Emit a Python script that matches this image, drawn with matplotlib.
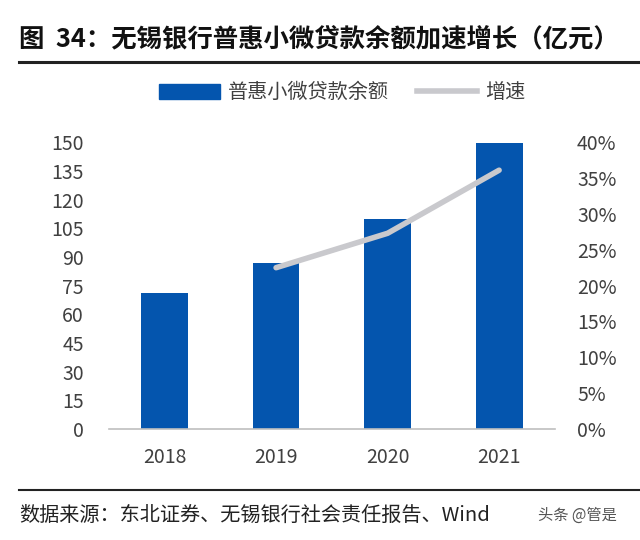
import matplotlib
matplotlib.use("Agg")
import matplotlib.pyplot as plt
from matplotlib.lines import Line2D
from matplotlib.ticker import FuncFormatter

plt.rcParams['font.family'] = ['Noto Sans CJK SC', 'DejaVu Sans']

# data
years = ['2018', '2019', '2020', '2021']
balance = [70.9, 86.6, 110.1, 149.7]      # 普惠小微贷款余额 (亿元)
growth_years = ['2019', '2020', '2021']
growth = [22.5, 27.3, 36.1]               # 增速 (%)
left_ticks = [0, 15, 30, 45, 60, 75, 90, 105, 120, 135, 150]
right_ticks = [0, 5, 10, 15, 20, 25, 30, 35, 40]

blue = '#0455AE'
grey_line = '#C9C9CD'
txt = '#404040'

fig = plt.figure(figsize=(6.4, 5.4), dpi=100)
ax = fig.add_axes([0.170, 0.2056, 0.697, 0.531])

x = list(range(len(years)))
ax.bar(x, balance, width=0.42, color=blue, zorder=2)
ax.set_xlim(-0.5, 3.5)
ax.set_ylim(0, 150)
ax.set_yticks(left_ticks)
ax.set_xticks(x)
ax.set_xticklabels(years)
ax.tick_params(length=0, labelsize=14, colors=txt)
ax.tick_params(axis='x', pad=13)
ax.tick_params(axis='y', pad=18)
for s in ['top', 'right', 'left']:
    ax.spines[s].set_visible(False)
ax.spines['bottom'].set_color('#BFBFBF')
ax.spines['bottom'].set_linewidth(1.2)

ax2 = ax.twinx()
gx = [years.index(y) for y in growth_years]
ax2.plot(gx, growth, color=grey_line, lw=4, solid_capstyle='round', solid_joinstyle='round', zorder=3)
ax2.set_ylim(0, 40)
ax2.set_yticks(right_ticks)
ax2.yaxis.set_major_formatter(FuncFormatter(lambda v, p: f'{v:.0f}%'))
ax2.tick_params(length=0, labelsize=14, colors=txt, pad=16)
for s in ['top', 'right', 'left', 'bottom']:
    ax2.spines[s].set_visible(False)

# legend
handles = [plt.Rectangle((0, 0), 1, 1, color=blue),
           Line2D([0], [0], color=grey_line, lw=4)]
fig.legend(handles, ['普惠小微贷款余额', '增速'], loc='center', bbox_to_anchor=(0.535, 0.828),
           ncol=2, frameon=False, fontsize=14.5, handlelength=3.0, handleheight=0.8,
           columnspacing=1.4, handletextpad=0.4, labelcolor=txt)

# title and source
fig.text(0.03, 0.928, '图  34：无锡银行普惠小微贷款余额加速增长（亿元）', fontsize=18.3,
         fontweight='bold', color='#111111', va='center')
fig.add_artist(Line2D([0.03, 1.0], [0.885, 0.885], color='#222222', lw=2.2))
fig.add_artist(Line2D([0.03, 1.0], [0.093, 0.093], color='#222222', lw=1.5))
fig.text(0.03, 0.046, '数据来源：东北证券、无锡银行社会责任报告、Wind', fontsize=14.5,
         color='#222222', va='center')
fig.text(0.84, 0.046, '头条 @管是', fontsize=11, color='#555555', va='center')

fig.savefig('out.png', dpi=100)
